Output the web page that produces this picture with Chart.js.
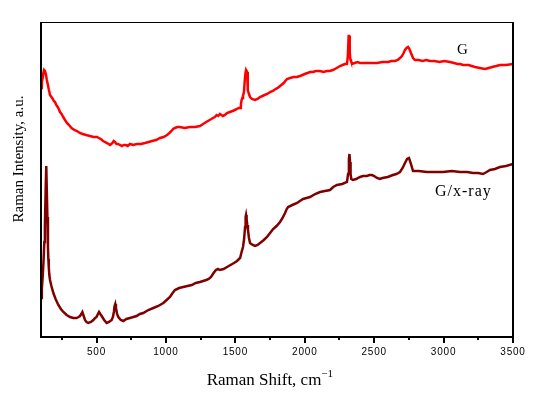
<!DOCTYPE html>
<html>
<head>
<meta charset="utf-8">
<script src="https://cdn.jsdelivr.net/npm/chart.js@4"></script>
<style>
  html, body { margin: 0; padding: 0; background: #fff; }
  #wrap { width: 547px; height: 396px; }
</style>
</head>
<body>
<div id="wrap"><canvas id="chart" width="547" height="396"></canvas></div>
<script>
// Raman shift (cm-1) and intensity (a.u.)
const shiftG = [100, 106, 112, 117, 122, 128, 135, 142, 150, 157, 165, 175, 185, 193, 201, 210, 220, 228, 237, 248, 260, 273, 287, 302, 320, 340, 359, 380, 400, 425, 453, 478, 503, 517, 530, 540, 547, 560, 575, 587, 597, 606, 615, 624, 633, 644, 655, 668, 683, 697, 710, 725, 741, 765, 790, 820, 849, 875, 900, 930, 957, 983, 1008, 1025, 1040, 1052, 1065, 1082, 1100, 1135, 1173, 1210, 1245, 1268, 1290, 1315, 1339, 1352, 1365, 1377, 1389, 1400, 1410, 1425, 1440, 1460, 1480, 1496, 1512, 1524, 1534, 1540, 1545, 1550, 1555, 1562, 1568, 1573, 1577, 1581, 1585, 1588, 1591, 1598, 1606, 1620, 1642, 1660, 1678, 1695, 1710, 1730, 1750, 1770, 1790, 1805, 1822, 1848, 1872, 1895, 1920, 1943, 1966, 1983, 2000, 2020, 2038, 2060, 2080, 2095, 2110, 2135, 2160, 2180, 2203, 2230, 2254, 2272, 2290, 2304, 2310, 2316, 2320, 2324, 2328, 2333, 2340, 2360, 2380, 2398, 2425, 2450, 2485, 2520, 2560, 2600, 2625, 2650, 2670, 2686, 2700, 2712, 2722, 2733, 2744, 2754, 2765, 2780, 2794, 2820, 2850, 2875, 2902, 2935, 2970, 3005, 3046, 3075, 3100, 3120, 3140, 3180, 3226, 3260, 3298, 3325, 3350, 3380, 3406, 3450, 3500];
const intensityG = [249, 255, 259, 264, 267, 266, 263, 257, 252, 247, 242, 240, 238, 236, 235, 232, 230, 228, 225, 223, 220, 217, 214, 212, 209, 207, 206, 204, 203, 202, 201, 200, 200, 199, 198, 197, 196, 195, 194, 193, 192, 193, 194, 196, 195, 193, 193, 192, 191, 192, 192, 191, 193, 192, 193, 193, 194, 195, 196, 197, 199, 200, 202, 204, 206, 208, 209, 210, 210, 209, 210, 210, 211, 213, 215, 217, 219, 220, 222, 221, 223, 222, 221, 222, 224, 225, 226, 227, 228, 229, 229, 233, 237, 239, 241, 245, 257, 264, 267, 266, 265, 256, 247, 243, 240, 238, 237, 238, 240, 241, 242, 243, 245, 246, 248, 249, 251, 254, 258, 259, 260, 260, 261, 262, 263, 264, 265, 265, 266, 266, 266, 265, 266, 266, 267, 269, 271, 272, 273, 273, 280, 301, 301, 285, 278, 276, 273, 274, 275, 274, 274, 274, 274, 274, 275, 275, 276, 276, 277, 279, 281, 284, 287, 289, 290, 288, 284, 279, 277, 277, 276, 277, 276, 276, 275, 276, 275, 274, 273, 273, 272, 272, 270, 269, 268, 269, 270, 271, 272, 272, 273];

const shiftGX = [100, 106, 112, 118, 124, 128, 134, 138, 142, 146, 150, 153, 156, 160, 165, 175, 189, 205, 225, 243, 261, 285, 309, 333, 357, 370, 381, 390, 398, 405, 417, 428, 441, 460, 477, 490, 500, 510, 518, 527, 537, 555, 573, 590, 609, 618, 625, 630, 635, 640, 648, 657, 675, 693, 715, 741, 765, 789, 812, 837, 873, 909, 945, 981, 1005, 1029, 1048, 1065, 1095, 1125, 1155, 1186, 1215, 1245, 1268, 1290, 1308, 1325, 1343, 1360, 1375, 1389, 1415, 1440, 1465, 1490, 1512, 1534, 1545, 1555, 1563, 1570, 1574, 1577, 1581, 1586, 1591, 1598, 1606, 1625, 1642, 1660, 1678, 1705, 1728, 1750, 1772, 1797, 1822, 1840, 1858, 1870, 1880, 1910, 1945, 1965, 1988, 2013, 2038, 2075, 2110, 2145, 2182, 2205, 2232, 2270, 2304, 2312, 2318, 2322, 2326, 2330, 2335, 2347, 2370, 2398, 2420, 2448, 2466, 2484, 2500, 2520, 2540, 2560, 2598, 2635, 2660, 2686, 2705, 2722, 2737, 2751, 2763, 2780, 2820, 2880, 2940, 2995, 3060, 3118, 3170, 3212, 3250, 3284, 3310, 3334, 3370, 3406, 3450, 3500];
const intensityGX = [39, 48, 60, 75, 95, 110, 150, 171, 171, 120, 90, 78, 70, 62, 57, 51, 44, 38, 32, 28, 25, 22, 20, 19, 19, 20, 21, 23, 25, 22, 17, 15, 14, 15, 17, 19, 20, 23, 25, 23, 21, 17, 14, 15, 17, 20, 25, 31, 33, 29, 23, 20, 17, 16, 18, 19, 20, 21, 23, 24, 27, 29, 31, 34, 37, 40, 44, 47, 49, 50, 51, 52, 54, 55, 56, 57, 58, 60, 64, 67, 68, 67, 68, 70, 72, 74, 76, 79, 85, 90, 98, 110, 120, 122, 118, 112, 107, 99, 94, 92, 91, 92, 94, 97, 100, 104, 108, 111, 115, 119, 124, 128, 130, 132, 134, 136, 138, 139, 140, 143, 145, 146, 147, 150, 152, 153, 155, 163, 178, 183, 175, 163, 158, 157, 158, 160, 161, 161, 162, 162, 161, 159, 158, 159, 160, 162, 163, 165, 169, 174, 178, 179, 174, 166, 166, 165, 165, 165, 166, 165, 165, 164, 164, 163, 165, 167, 168, 170, 171, 173];

const majorTicks = [500, 1000, 1500, 2000, 2500, 3000, 3500];
const minorTicks = [250, 750, 1250, 1750, 2250, 2750, 3250];

const toPoints = (xs, ys) => xs.map((x, i) => ({ x: x, y: ys[i] }));

const frame = {
  id: "frame",
  beforeDraw(chart) {
    chart.ctx.letterSpacing = "0.8px";
  },
  beforeDatasetsDraw(chart) {
    chart.ctx.letterSpacing = "0px";
  },
  afterDraw(chart) {
    const { ctx, chartArea: a, scales } = chart;
    ctx.save();
    ctx.strokeStyle = "#000";
    ctx.lineWidth = 2;
    ctx.beginPath();
    ctx.moveTo(a.left, a.top);
    ctx.lineTo(a.left, a.bottom);
    ctx.lineTo(a.right, a.bottom);
    ctx.lineTo(a.right, a.top);
    ctx.stroke();
    ctx.lineWidth = 1;
    ctx.beginPath();
    ctx.moveTo(a.left, a.top + 0.5);
    ctx.lineTo(a.right, a.top + 0.5);
    ctx.stroke();

    // tick marks, outside the bottom axis
    ctx.lineWidth = 2;
    ctx.beginPath();
    majorTicks.forEach((v) => {
      const px = Math.round(scales.x.getPixelForValue(v));
      ctx.moveTo(px, a.bottom);
      ctx.lineTo(px, a.bottom + 6);
    });
    minorTicks.forEach((v) => {
      const px = Math.round(scales.x.getPixelForValue(v));
      ctx.moveTo(px, a.bottom);
      ctx.lineTo(px, a.bottom + 3);
    });
    ctx.stroke();

    // titles and curve labels
    ctx.fillStyle = "#000";
    ctx.font = "17px 'Liberation Serif'";
    ctx.textAlign = "center";
    ctx.textBaseline = "alphabetic";
    const t = "Raman Shift, cm";
    const tw = ctx.measureText(t).width;
    ctx.fillText(t, 264, 385);
    ctx.font = "11px 'Liberation Serif'";
    ctx.textAlign = "left";
    ctx.fillText("\u22121", 264 + tw / 2, 377);

    ctx.save();
    ctx.translate(23, 159);
    ctx.rotate(-Math.PI / 2);
    ctx.textAlign = "center";
    ctx.font = "15px 'Liberation Serif'";
    ctx.fillText("Raman Intensity, a.u.", 0, 0);
    ctx.restore();

    ctx.textAlign = "left";
    ctx.font = "15px 'Liberation Serif'";
    ctx.fillText("G", 457, 54);
    ctx.letterSpacing = "1px";
    ctx.font = "16px 'Liberation Serif'";
    ctx.fillText("G/x-ray", 435, 196);
    ctx.restore();
  },
};

new Chart(document.getElementById("chart"), {
  type: "line",
  data: {
    datasets: [
      {
        label: "G",
        data: toPoints(shiftG, intensityG),
        borderColor: "#ff0000",
        borderWidth: 2.5,
        pointRadius: 0,
        tension: 0,
      },
      {
        label: "G/x-ray",
        data: toPoints(shiftGX, intensityGX),
        borderColor: "#800000",
        borderWidth: 2.5,
        pointRadius: 0,
        tension: 0,
      },
    ],
  },
  options: {
    responsive: false,
    animation: false,
    layout: { padding: { left: 0, top: 22, right: 34, bottom: 0 } },
    plugins: { legend: { display: false }, tooltip: { enabled: false } },
    scales: {
      x: {
        type: "linear",
        min: 100,
        max: 3500,
        afterFit: (s) => { s.height = 59; },
        afterBuildTicks: (s) => { s.ticks = majorTicks.map((v) => ({ value: v })); },
        border: { display: false },
        grid: { drawOnChartArea: false, tickLength: 6, tickColor: "rgba(0,0,0,0)" },
        ticks: {
          autoSkip: false,
          maxRotation: 0,
          padding: 3,
          color: "#000",
          font: { family: "'Liberation Sans'", size: 10 },
          callback: (v) => String(v),
        },
      },
      y: {
        min: 0,
        max: 315,
        afterFit: (s) => { s.width = 41; },
        border: { display: false },
        grid: { display: false },
        ticks: { display: false },
      },
    },
  },
  plugins: [frame],
});
</script>
</body>
</html>
